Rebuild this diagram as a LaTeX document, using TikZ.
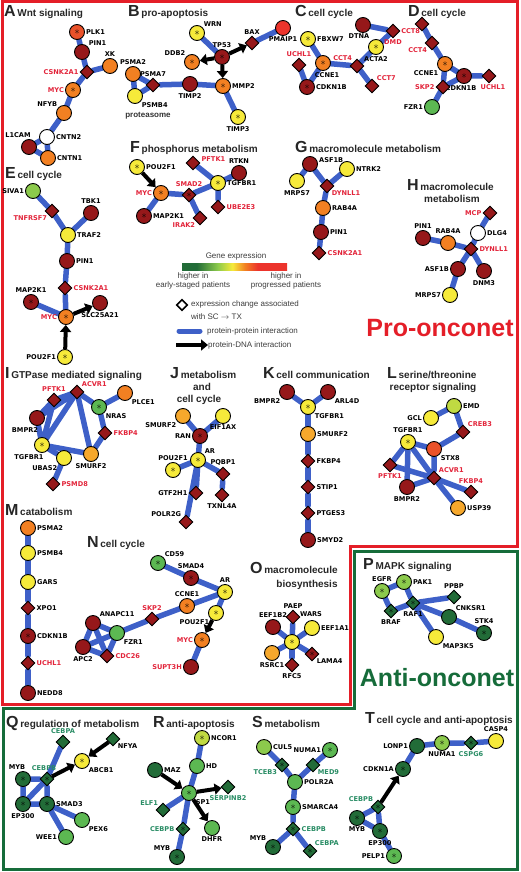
\documentclass[tikz,border=0pt]{standalone}
\usepackage{fontspec}
\setmainfont{Liberation Sans}
\newfontfamily\labfont{DejaVu Sans}
\usetikzlibrary{shapes.geometric,arrows.meta}

\definecolor{dred}{RGB}{150,24,26}
\definecolor{ored}{RGB}{234,82,42}
\definecolor{rred}{RGB}{236,52,44}
\definecolor{orng}{RGB}{242,128,34}
\definecolor{lorng}{RGB}{246,168,44}
\definecolor{yell}{RGB}{246,234,58}
\definecolor{ygrn}{RGB}{192,218,66}
\definecolor{lgrn}{RGB}{140,202,76}
\definecolor{mgrn}{RGB}{92,184,82}
\definecolor{dgrn}{RGB}{34,108,56}
\definecolor{ppiblue}{RGB}{62,96,200}
\definecolor{labred}{RGB}{226,36,58}
\definecolor{labteal}{RGB}{40,140,100}
\definecolor{framered}{RGB}{228,30,40}
\definecolor{framegreen}{RGB}{22,108,58}
\definecolor{legtext}{RGB}{60,60,60}

\pgfdeclarehorizontalshading{geneexp}{100bp}{color(0bp)=(dgrn); color(32bp)=(dgrn); color(42bp)=(lgrn); color(49bp)=(yell); color(55bp)=(orng); color(61bp)=(rred); color(100bp)=(rred)}

\pgfdeclarelayer{bg}
\pgfsetlayers{bg,main}

\newcommand{\pnl}[1]{{\fontsize{16}{16}\selectfont #1}}

\tikzset{
  gn/.style={circle,draw=black,line width=0.9pt,minimum size=15pt,inner sep=0pt},
  dm/.style={diamond,aspect=1,draw=black,line width=0.9pt,minimum size=14pt,inner sep=0pt},
  gdr/.style={gn,fill=dred}, gor/.style={gn,fill=ored}, grd/.style={gn,fill=rred},
  gog/.style={gn,fill=orng}, glo/.style={gn,fill=lorng}, gye/.style={gn,fill=yell},
  gyg/.style={gn,fill=ygrn}, glg/.style={gn,fill=lgrn}, gmg/.style={gn,fill=mgrn},
  gdg/.style={gn,fill=dgrn}, gwh/.style={gn,fill=white},
  ddr/.style={dm,fill=dred}, ddg/.style={dm,fill=dgrn},
  sig/.style={label={[inner sep=0pt]center:$\ast$}},
  lab/.style={font=\labfont\fontsize{6.6}{7}\bfseries\selectfont,inner sep=1pt,text=black},
  labr/.style={lab,text=labred},
  labt/.style={lab,text=labteal},
  hd/.style={font=\fontsize{10}{11}\bfseries\selectfont,inner sep=0pt,text=black!85},
  leg/.style={font=\fontsize{8}{9}\selectfont,inner sep=0pt,text=legtext},
  ppi/.style={draw=ppiblue,line width=5.5pt,line cap=round},
  pdi/.style={draw=black,line width=4pt,-{Triangle[length=7pt,width=11pt]}},
}

\begin{document}
\begin{tikzpicture}[x=1pt,y=-1pt]
\useasboundingbox (0,0) rectangle (520,872);
\draw[framered,line width=3pt] (2,2) -- (517,2) -- (517,546) -- (350,546) -- (350,704) -- (2,704) -- cycle;
\draw[framegreen,line width=3pt] (354,551) -- (517,551) -- (517,869) -- (3,869) -- (3,708) -- (354,708) -- cycle;
\node[font=\fontsize{25}{25}\bfseries\selectfont,text=framered] (pro) at (440,328) {Pro-onconet};
\node[font=\fontsize{25}{25}\bfseries\selectfont,text=framegreen] (anti) at (437,678) {Anti-onconet};

% headings
\node[hd,anchor=base west] (hA) at (4,17) {\pnl{A}\,Wnt signaling};
\node[hd,anchor=base west] (hB) at (128,17) {\pnl{B}\,pro-apoptosis};
\node[hd,anchor=base west] (hC) at (295,17) {\pnl{C}\,cell cycle};
\node[hd,anchor=base west] (hD) at (408,17) {\pnl{D}\,cell cycle};
\node[hd,anchor=base west] (hE) at (5,178) {\pnl{E}\,cell cycle};
\node[hd,anchor=base west] (hF) at (130,153) {\pnl{F}\,phosphorus metabolism};
\node[hd,anchor=base west] (hG) at (295,153) {\pnl{G}\,macromolecule metabolism};
\node[hd,anchor=base west] (hH) at (407,190) {\pnl{H}\,macromolecule};
\node[hd,anchor=base] (hH2) at (452,202) {metabolism};
\node[hd,anchor=base west] (hI) at (5,378) {\pnl{I}\,GTPase mediated signaling};
\node[hd,anchor=base west] (hJ) at (170,378) {\pnl{J}\,metabolism};
\node[hd,anchor=base] (hJ2) at (202,390) {and};
\node[hd,anchor=base] (hJ3) at (199,402) {cell cycle};
\node[hd,anchor=base west] (hK) at (263,378) {\pnl{K}\,cell communication};
\node[hd,anchor=base west] (hL) at (387,378) {\pnl{L}\,serine/threonine};
\node[hd,anchor=base] (hL2) at (433,390) {receptor signaling};
\node[hd,anchor=base west] (hM) at (5,515) {\pnl{M}\,catabolism};
\node[hd,anchor=base west] (hN) at (87,547) {\pnl{N}\,cell cycle};
\node[hd,anchor=base west] (hO) at (250,573) {\pnl{O}\,macromolecule};
\node[hd,anchor=base] (hO2) at (307,587) {biosynthesis};
\node[hd,anchor=base west] (hP) at (363,569) {\pnl{P}\,MAPK signaling};
\node[hd,anchor=base west] (hQ) at (6,727) {\pnl{Q}\,regulation of metabolism};
\node[hd,anchor=base west] (hR) at (153,727) {\pnl{R}\,anti-apoptosis};
\node[hd,anchor=base west] (hS) at (252,727) {\pnl{S}\,metabolism};
\node[hd,anchor=base west] (hT) at (365,723) {\pnl{T}\,cell cycle and anti-apoptosis};

% legend
\node[leg] (lgtitle) at (236,256) {Gene expression};
\shade[shading=geneexp] (182,263) rectangle (287,270);
\node[leg,align=center] (lgleft) at (193,280.5) {higher in\\early-staged patients};
\node[leg,align=center] (lgright) at (286,280.5) {higher in\\progressed patients};
\node[dm,fill=white,line width=1.6pt,minimum size=11pt] (lgdiam) at (182,305) {};
\node[leg,font=\fontsize{8}{13}\selectfont,anchor=west,align=left] (lgchg) at (191,310.5) {expression change associated\\with SC $\rightarrow$ TX};
\coordinate (ppia) at (179,331);
\coordinate (ppib) at (200,331);
\node[leg,anchor=west] (lgppi) at (207,331) {protein-protein interaction};
\coordinate (pdia) at (176,345);
\coordinate (pdib) at (208,345);
\node[leg,anchor=west] (lgpdi) at (208,345) {protein-DNA interaction};

% A
\node[gor,sig,label={[lab]right:PLK1}] (plk1) at (77,32) {};
\node[gdr,label={[lab]above right:PIN1}] (pin1a) at (82,52) {};
\node[gog,label={[lab]above:XK}] (xk) at (110,66) {};
\node[ddr,label={[labr]left:CSNK2A1}] (csnka) at (87,72) {};
\node[gog,sig,label={[labr]left:MYC}] (myca) at (73,90) {};
\node[gog,label={[lab]above left:NFYB}] (nfyb) at (64,113) {};
\node[gwh,label={[lab]right:CNTN2}] (cntn2) at (47,137) {};
\node[gdr,label={[lab,xshift=-11pt]above:L1CAM}] (l1cam) at (29,147) {};
\node[gog,label={[lab]right:CNTN1}] (cntn1) at (48,158) {};
% B
\node[gye,sig,label={[lab]above right:WRN}] (wrn) at (197,33) {};
\node[gdr,sig,label={[lab]above:TP53}] (tp53) at (222,57) {};
\node[gog,sig,label={[lab]above left:DDB2}] (ddb2) at (192,62) {};
\node[ddr,label={[lab]above:BAX}] (bax) at (252,43) {};
\node[grd,label={[lab]below:PMAIP1}] (pmaip1) at (283,28) {};
\node[gog,label={[lab]above:PSMA2}] (psma2) at (133,74) {};
\node[ddr,label={[lab]above:PSMA7}] (psma7) at (153,85) {};
\node[gye,label={[lab]below right:PSMB4}] (psmb4) at (135,96) {};
\node[gdr,label={[lab]below:TIMP2}] (timp2) at (190,84) {};
\node[gog,sig,label={[lab]right:MMP2}] (mmp2) at (223,86) {};
\node[gye,sig,label={[lab]below:TIMP3}] (timp3) at (238,117) {};
\node[font=\fontsize{8}{9}\bfseries\selectfont,text=black!80] (ptsm) at (148,116) {proteasome};
% C
\node[gye,sig,label={[lab]right:FBXW7}] (fbxw7) at (308,39) {};
\node[ddr,label={[labr]above:UCHL1}] (uchl1c) at (299,65) {};
\node[gog,sig,label={[lab,xshift=4pt]below:CCNE1}] (ccne1c) at (323,63) {};
\node[gdr,sig,label={[lab]right:CDKN1B}] (cdkn1bc) at (307,87) {};
\node[ddr,label={[labr]above left:CCT4}] (cct4c) at (357,66) {};
\node[ddr,label={[labr]above right:CCT7}] (cct7) at (372,86) {};
\node[gye,sig,label={[lab]below:ACTA2}] (acta2) at (376,47) {};
\node[gdr,label={[lab,xshift=-4pt]below:DTNA}] (dtna) at (363,25) {};
\node[ddr,label={[labr]below:DMD}] (dmd) at (393,31) {};
% D
\node[ddr,label={[labr,xshift=3pt]below left:CCT8}] (cct8) at (422,24) {};
\node[ddr,label={[labr]below left:CCT4}] (cct4d) at (432,43) {};
\node[gog,sig,label={[lab]below left:CCNE1}] (ccne1d) at (445,64) {};
\node[gdr,sig,label={[lab,xshift=-3pt]below:CDKN1B}] (cdkn1bd) at (464,76) {};
\node[ddr,label={[labr,xshift=4pt]below:UCHL1}] (uchl1d) at (489,76) {};
\node[ddr,label={[labr]left:SKP2}] (skp2d) at (443,87) {};
\node[gmg,label={[lab]left:FZR1}] (fzr1d) at (432,107) {};
% E
\node[glg,label={[lab]left:SIVA1}] (siva1) at (33,191) {};
\node[ddr,label={[labr]below left:TNFRSF7}] (tnfrsf7) at (52,211) {};
\node[gdr,label={[lab]above:TBK1}] (tbk1) at (91,213) {};
\node[gye,label={[lab]right:TRAF2}] (traf2) at (68,235) {};
\node[gdr,label={[lab]right:PIN1}] (pin1e) at (67,261) {};
\node[ddr,label={[labr]right:CSNK2A1}] (csnke) at (65,288) {};
\node[gdr,sig,label={[lab]above:MAP2K1}] (map2k1e) at (31,302) {};
\node[gog,sig,label={[labr]left:MYC}] (myce) at (66,317) {};
\node[gdr,label={[lab]below:SLC25A21}] (slc) at (100,303) {};
\node[gye,sig,label={[lab]left:POU2F1}] (pou2f1e) at (65,357) {};
% F
\node[gye,sig,label={[lab]right:POU2F1}] (pou2f1f) at (137,167) {};
\node[gog,sig,label={[labr]left:MYC}] (mycf) at (161,193) {};
\node[gdr,sig,label={[lab]right:MAP2K1}] (map2k1f) at (144,216) {};
\node[ddr,sig,label={[labr]above:SMAD2}] (smad2) at (189,195) {};
\node[ddr,label={[labr]below left:IRAK2}] (irak2) at (200,218) {};
\node[ddr,label={[labr,yshift=4pt]right:PFTK1}] (pftk1f) at (193,163) {};
\node[gye,sig,label={[lab]right:TGFBR1}] (tgfbr1f) at (218,183) {};
\node[gdr,label={[lab]above:RTKN}] (rtkn) at (239,173) {};
\node[ddr,label={[labr]right:UBE2E3}] (ube2e3) at (218,207) {};
% G
\node[gdr,label={[lab,yshift=4pt]right:ASF1B}] (asf1bg) at (310,164) {};
\node[gye,label={[lab]right:NTRK2}] (ntrk2) at (347,169) {};
\node[gye,label={[lab]below:MRPS7}] (mrps7g) at (297,181) {};
\node[ddr,label={[labr]below right:DYNLL1}] (dynll1g) at (327,186) {};
\node[gog,label={[lab]right:RAB4A}] (rab4ag) at (323,208) {};
\node[gdr,label={[lab]right:PIN1}] (pin1g) at (321,232) {};
\node[ddr,label={[labr]right:CSNK2A1}] (csnkg) at (319,253) {};
% H
\node[ddr,label={[labr]left:MCP}] (mcp) at (490,213) {};
\node[gwh,label={[lab]right:DLG4}] (dlg4) at (478,233) {};
\node[gdr,label={[lab]above:PIN1}] (pin1h) at (423,238) {};
\node[gog,label={[lab]above:RAB4A}] (rab4ah) at (448,243) {};
\node[ddr,label={[labr]right:DYNLL1}] (dynll1h) at (471,249) {};
\node[gdr,label={[lab]left:ASF1B}] (asf1bh) at (458,269) {};
\node[gdr,label={[lab]below:DNM3}] (dnm3) at (484,271) {};
\node[gye,label={[lab]left:MRPS7}] (mrps7h) at (450,295) {};
% I
\node[ddr,label={[labr]above:PFTK1}] (pftk1i) at (54,400) {};
\node[ddr,label={[labr]above right:ACVR1}] (acvr1i) at (77,392) {};
\node[gog,label={[lab]below right:PLCE1}] (plce1) at (125,393) {};
\node[gmg,sig,label={[lab]below right:NRAS}] (nras) at (99,407) {};
\node[gdr,label={[lab,xshift=-12pt]below:BMPR2}] (bmpr2i) at (37,418) {};
\node[ddr,label={[labr]right:FKBP4}] (fkbp4i) at (105,433) {};
\node[gye,sig,label={[lab,xshift=-13pt]below:TGFBR1}] (tgfbr1i) at (42,445) {};
\node[gye,label={[lab,yshift=-1pt]below left:UBAS2}] (ubas2) at (64,458) {};
\node[glo,label={[lab]below:SMURF2}] (smurf2i) at (91,454) {};
\node[ddr,label={[labr]right:PSMD8}] (psmd8) at (53,484) {};
% J
\node[glo,label={[lab]below left:SMURF2}] (smurf2j) at (183,416) {};
\node[gye,label={[lab]below:EIF1AX}] (eif1ax) at (223,416) {};
\node[gdr,sig,label={[lab]left:RAN}] (ran) at (200,436) {};
\node[gye,sig,label={[lab]above right:AR}] (arj) at (198,460) {};
\node[gye,sig,label={[lab]above:POU2F1}] (pou2f1j) at (173,470) {};
\node[ddr,label={[lab]above:PQBP1}] (pqbp1) at (223,474) {};
\node[ddr,label={[lab]left:GTF2H1}] (gtf2h1) at (196,493) {};
\node[ddr,label={[lab]below:TXNL4A}] (txnl4a) at (222,495) {};
\node[ddr,label={[lab]above left:POLR2G}] (polr2g) at (186,522) {};
% K
\node[gdr,label={[lab]below left:BMPR2}] (bmpr2k) at (287,392) {};
\node[gdr,label={[lab]below right:ARL4D}] (arl4d) at (328,392) {};
\node[gye,sig,label={[lab]below right:TGFBR1}] (tgfbr1k) at (308,407) {};
\node[glo,label={[lab]right:SMURF2}] (smurf2k) at (308,434) {};
\node[ddr,label={[lab]right:FKBP4}] (fkbp4k) at (308,461) {};
\node[ddr,label={[lab]right:STIP1}] (stip1) at (308,487) {};
\node[ddr,label={[lab]right:PTGES3}] (ptges3) at (308,513) {};
\node[gdr,label={[lab]right:SMYD2}] (smyd2) at (308,540) {};
% L
\node[gye,label={[lab]left:GCL}] (gcl) at (431,418) {};
\node[gyg,label={[lab]right:EMD}] (emd) at (454,406) {};
\node[ddr,label={[labr]above right:CREB3}] (creb3) at (463,432) {};
\node[gye,sig,label={[lab]above:TGFBR1}] (tgfbr1l) at (408,442) {};
\node[gor,label={[lab]below right:STX8}] (stx8) at (434,449) {};
\node[ddr,label={[labr]below:PFTK1}] (pftk1l) at (390,465) {};
\node[ddr,label={[labr]above right:ACVR1}] (acvr1l) at (434,478) {};
\node[ddr,label={[labr]above:FKBP4}] (fkbp4l) at (471,492) {};
\node[gdr,label={[lab]below:BMPR2}] (bmpr2l) at (407,487) {};
\node[glo,label={[lab]right:USP39}] (usp39) at (458,508) {};
% M
\node[gog,label={[lab]right:PSMA2}] (psma2m) at (28,528) {};
\node[gye,label={[lab]right:PSMB4}] (psmb4m) at (28,553) {};
\node[gye,label={[lab]right:GARS}] (gars) at (28,582) {};
\node[ddr,label={[lab]right:XPO1}] (xpo1) at (28,608) {};
\node[gdr,sig,label={[lab]right:CDKN1B}] (cdkn1bm) at (28,636) {};
\node[ddr,label={[labr]right:UCHL1}] (uchl1m) at (28,663) {};
\node[gdr,label={[lab]right:NEDD8}] (nedd8) at (28,693) {};
% N
\node[gmg,sig,label={[lab]above right:CD59}] (cd59) at (158,563) {};
\node[gdr,sig,label={[lab]above:SMAD4}] (smad4) at (191,578) {};
\node[gye,sig,label={[lab]above:AR}] (arn) at (225,592) {};
\node[gog,sig,label={[lab]above:CCNE1}] (ccne1n) at (187,606) {};
\node[gye,sig,label={[lab]below left:POU2F1}] (pou2f1n) at (216,613) {};
\node[ddr,label={[labr]above:SKP2}] (skp2n) at (152,619) {};
\node[gdr,label={[lab]above right:ANAPC11}] (anapc11) at (93,623) {};
\node[gmg,label={[lab]below right:FZR1}] (fzr1n) at (117,633) {};
\node[gdr,label={[lab]below:APC2}] (apc2) at (83,647) {};
\node[ddr,label={[labr]right:CDC26}] (cdc26) at (107,656) {};
\node[gog,sig,label={[labr]left:MYC}] (mycn) at (202,640) {};
\node[gdr,label={[labr]left:SUPT3H}] (supt3h) at (191,667) {};
% O
\node[gdr,label={[lab]above:EEF1B2}] (eef1b2) at (273,627) {};
\node[ddr,label={[lab]above:PAEP}] (paep) at (293,617) {};
\node[gye,label={[lab]right:EEF1A1}] (eef1a1) at (312,628) {};
\node[gye,sig,label={[lab,xshift=19pt,yshift=16pt]above:WARS}] (wars) at (292,642) {};
\node[glo,label={[lab]below:RSRC1}] (rsrc1) at (272,653) {};
\node[ddr,sig,label={[lab]below right:LAMA4}] (lama4) at (312,654) {};
\node[ddr,label={[lab]below:RFC5}] (rfc5) at (292,665) {};
% P
\node[glg,sig,label={[lab]above:EGFR}] (egfr) at (382,591) {};
\node[glg,sig,label={[lab]right:PAK1}] (pak1) at (404,582) {};
\node[ddg,label={[lab]above:PPBP}] (ppbp) at (454,597) {};
\node[ddg,sig,label={[lab]below:RAF1}] (raf1) at (413,603) {};
\node[ddg,sig,label={[lab]below:BRAF}] (braf) at (391,611) {};
\node[gdg,label={[lab]above right:CNKSR1}] (cnksr1) at (449,617) {};
\node[gdg,sig,label={[lab]above:STK4}] (stk4) at (484,633) {};
\node[gye,label={[lab]below right:MAP3K5}] (map3k5) at (436,637) {};
% Q
\node[ddg,label={[labt]above:CEBPA}] (cebpaq) at (63,742) {};
\node[ddg,label={[lab]below right:NFYA}] (nfya) at (113,739) {};
\node[gye,sig,label={[lab]below right:ABCB1}] (abcb1) at (82,761) {};
\node[gdg,sig,label={[lab,xshift=-6pt]above:MYB}] (mybq) at (23,779) {};
\node[ddg,sig,label={[labt,xshift=-3pt]above:CEBPB}] (cebpbq) at (47,779) {};
\node[gdg,sig,label={[lab]below:EP300}] (ep300q) at (23,804) {};
\node[gdg,sig,label={[lab]right:SMAD3}] (smad3q) at (47,804) {};
\node[gmg,label={[lab]below right:PEX6}] (pex6) at (82,820) {};
\node[gmg,label={[lab]left:WEE1}] (wee1) at (66,837) {};
% R
\node[gyg,sig,label={[lab]right:NCOR1}] (ncor1) at (202,738) {};
\node[gmg,label={[lab]right:HD}] (hd) at (197,766) {};
\node[gdg,label={[lab]right:MAZ}] (maz) at (155,770) {};
\node[gmg,sig,label={[lab]below right:SP1}] (sp1) at (189,793) {};
\node[ddg,label={[labt]below:SERPINB2}] (serpinb2) at (228,787) {};
\node[ddg,label={[labt]above left:ELF1}] (elf1) at (163,810) {};
\node[gmg,label={[lab]below:DHFR}] (dhfr) at (212,828) {};
\node[ddg,sig,label={[labt]left:CEBPB}] (cebpbr) at (183,829) {};
\node[gdg,sig,label={[lab]above left:MYB}] (mybr) at (177,857) {};
% S
\node[glg,label={[lab]right:CUL5}] (cul5) at (264,747) {};
\node[gmg,sig,label={[lab]left:NUMA1}] (numa1s) at (330,750) {};
\node[ddg,sig,label={[labt]below left:TCEB3}] (tceb3) at (282,765) {};
\node[ddg,label={[labt]below right:MED9}] (med9) at (313,765) {};
\node[gmg,label={[lab]right:POLR2A}] (polr2a) at (295,782) {};
\node[gmg,sig,label={[lab]right:SMARCA4}] (smarca4) at (293,807) {};
\node[ddg,sig,label={[labt]right:CEBPB}] (cebpbs) at (293,829) {};
\node[gdg,sig,label={[lab]above left:MYB}] (mybs) at (273,847) {};
\node[ddg,sig,label={[labt]above right:CEBPA}] (cebpas) at (310,851) {};
% T
\node[gye,label={[lab]above:CASP4}] (casp4) at (496,741) {};
\node[ddg,sig,label={[labt]below:CSPG6}] (cspg6) at (471,743) {};
\node[glg,sig,label={[lab]below:NUMA1}] (numa1t) at (442,743) {};
\node[gdg,label={[lab]left:LONP1}] (lonp1) at (417,746) {};
\node[gdg,sig,label={[lab]left:CDKN1A}] (cdkn1a) at (403,769) {};
\node[ddg,sig,label={[labt]above left:CEBPB}] (cebpbt) at (378,807) {};
\node[gdg,sig,label={[lab]below:MYB}] (mybt) at (357,818) {};
\node[gdg,sig,label={[lab]below:EP300}] (ep300t) at (380,831) {};
\node[gmg,sig,label={[lab]left:PELP1}] (pelp1) at (394,856) {};

\begin{pgfonlayer}{bg}
\draw[ppi,line width=5pt] (ppia) -- (ppib);
\draw[pdi] (pdia) -- (pdib);
% A
\draw[ppi] (plk1) -- (pin1a) -- (csnka) -- (myca) -- (nfyb) -- (cntn2) -- (l1cam) -- (cntn1) -- (cntn2);
\draw[ppi] (xk) -- (csnka);
% B
\draw[ppi] (wrn) -- (tp53);
\draw[ppi] (bax) -- (pmaip1);
\draw[ppi] (psma2) -- (psma7) -- (psmb4) -- (psma2);
\draw[ppi] (psma7) -- (timp2) -- (mmp2) -- (timp3);
\draw[pdi] (tp53) -- (ddb2);
\draw[pdi] (tp53) -- (bax);
\draw[pdi] (tp53) -- (mmp2);
% C
\draw[ppi] (fbxw7) -- (ccne1c) -- (cdkn1bc) -- (uchl1c);
\draw[ppi] (ccne1c) -- (cct4c) -- (cct7);
\draw[ppi] (cct4c) -- (acta2) -- (dmd) -- (dtna);
% D
\draw[ppi] (cct8) -- (cct4d) -- (ccne1d) -- (cdkn1bd) -- (uchl1d);
\draw[ppi] (ccne1d) -- (skp2d) -- (cdkn1bd);
\draw[ppi] (skp2d) -- (fzr1d);
% E
\draw[ppi] (siva1) -- (tnfrsf7) -- (traf2) -- (pin1e) -- (csnke) -- (myce) -- (map2k1e);
\draw[ppi] (tbk1) -- (traf2);
\draw[pdi] (myce) -- (slc);
\draw[pdi] (pou2f1e) -- (myce);
% F
\draw[ppi] (map2k1f) -- (mycf) -- (smad2) -- (irak2);
\draw[ppi] (smad2) -- (tgfbr1f) -- (rtkn);
\draw[ppi] (pftk1f) -- (tgfbr1f) -- (ube2e3);
\draw[pdi] (pou2f1f) -- (mycf);
% G
\draw[ppi] (mrps7g) -- (asf1bg) -- (dynll1g) -- (rab4ag) -- (pin1g) -- (csnkg);
\draw[ppi] (ntrk2) -- (dynll1g);
% H
\draw[ppi] (mcp) -- (dlg4) -- (dynll1h) -- (dnm3);
\draw[ppi] (pin1h) -- (rab4ah) -- (dynll1h) -- (asf1bh) -- (mrps7h);
% I
\draw[ppi] (pftk1i) -- (acvr1i) -- (nras) -- (plce1);
\draw[ppi] (nras) -- (fkbp4i) -- (smurf2i) -- (tgfbr1i) -- (bmpr2i) -- (pftk1i) -- (tgfbr1i) -- (acvr1i) -- (bmpr2i);
\draw[ppi] (acvr1i) -- (smurf2i);
\draw[ppi] (tgfbr1i) -- (ubas2) -- (psmd8);
% J
\draw[ppi] (smurf2j) -- (ran) -- (eif1ax);
\draw[ppi] (ran) -- (arj) -- (pou2f1j);
\draw[ppi] (arj) -- (pqbp1) -- (txnl4a);
\draw[ppi] (arj) -- (polr2g);
\draw[ppi] (arj) -- (gtf2h1);
% K
\draw[ppi] (bmpr2k) -- (tgfbr1k) -- (arl4d);
\draw[ppi] (tgfbr1k) -- (smurf2k) -- (fkbp4k) -- (stip1) -- (ptges3) -- (smyd2);
% L
\draw[ppi] (gcl) -- (emd) -- (creb3) -- (stx8) -- (tgfbr1l) -- (pftk1l) -- (acvr1l) -- (fkbp4l);
\draw[ppi] (tgfbr1l) -- (bmpr2l) -- (acvr1l) -- (usp39);
\draw[ppi] (tgfbr1l) -- (acvr1l) -- (stx8);
% M
\draw[ppi] (psma2m) -- (psmb4m) -- (gars) -- (xpo1) -- (cdkn1bm) -- (uchl1m) -- (nedd8);
% N
\draw[ppi] (cd59) -- (smad4) -- (arn) -- (ccne1n) -- (skp2n) -- (fzr1n) -- (anapc11) -- (apc2) -- (cdc26) -- (fzr1n) -- (apc2);
\draw[ppi] (anapc11) -- (cdc26);
\draw[ppi] (arn) -- (pou2f1n);
\draw[ppi] (mycn) -- (supt3h);
\draw[pdi] (pou2f1n) -- (mycn);
% O
\foreach \n in {eef1b2,paep,eef1a1,rsrc1,lama4,rfc5}
  \draw[ppi] (wars) -- (\n);
% P
\draw[ppi] (egfr) -- (pak1) -- (raf1) -- (braf) -- (egfr);
\draw[ppi] (raf1) -- (ppbp);
\draw[ppi] (raf1) -- (cnksr1) -- (stk4);
\draw[ppi] (raf1) -- (map3k5);
% Q
\draw[ppi] (cebpaq) -- (cebpbq) -- (mybq) -- (ep300q) -- (smad3q) -- (cebpbq) -- (ep300q);
\draw[ppi] (smad3q) -- (wee1);
\draw[ppi] (smad3q) -- (pex6);
\draw[pdi] (nfya) -- (abcb1);
\draw[pdi] (cebpbq) -- (abcb1);
% R
\draw[ppi] (ncor1) -- (hd) -- (sp1) -- (elf1);
\draw[ppi] (sp1) -- (cebpbr) -- (mybr);
\draw[pdi] (maz) -- (sp1);
\draw[pdi] (sp1) -- (serpinb2);
\draw[pdi] (sp1) -- (dhfr);
% S
\draw[ppi] (cul5) -- (tceb3) -- (polr2a) -- (med9) -- (numa1s);
\draw[ppi] (polr2a) -- (smarca4) -- (cebpbs) -- (mybs);
\draw[ppi] (cebpbs) -- (cebpas);
% T
\draw[ppi] (casp4) -- (cspg6) -- (numa1t) -- (lonp1) -- (cdkn1a);
\draw[pdi] (cebpbt) -- (cdkn1a);
\draw[ppi] (cebpbt) -- (mybt) -- (ep300t) -- (cebpbt);
\draw[ppi] (ep300t) -- (pelp1);
\end{pgfonlayer}
\end{tikzpicture}
\end{document}
